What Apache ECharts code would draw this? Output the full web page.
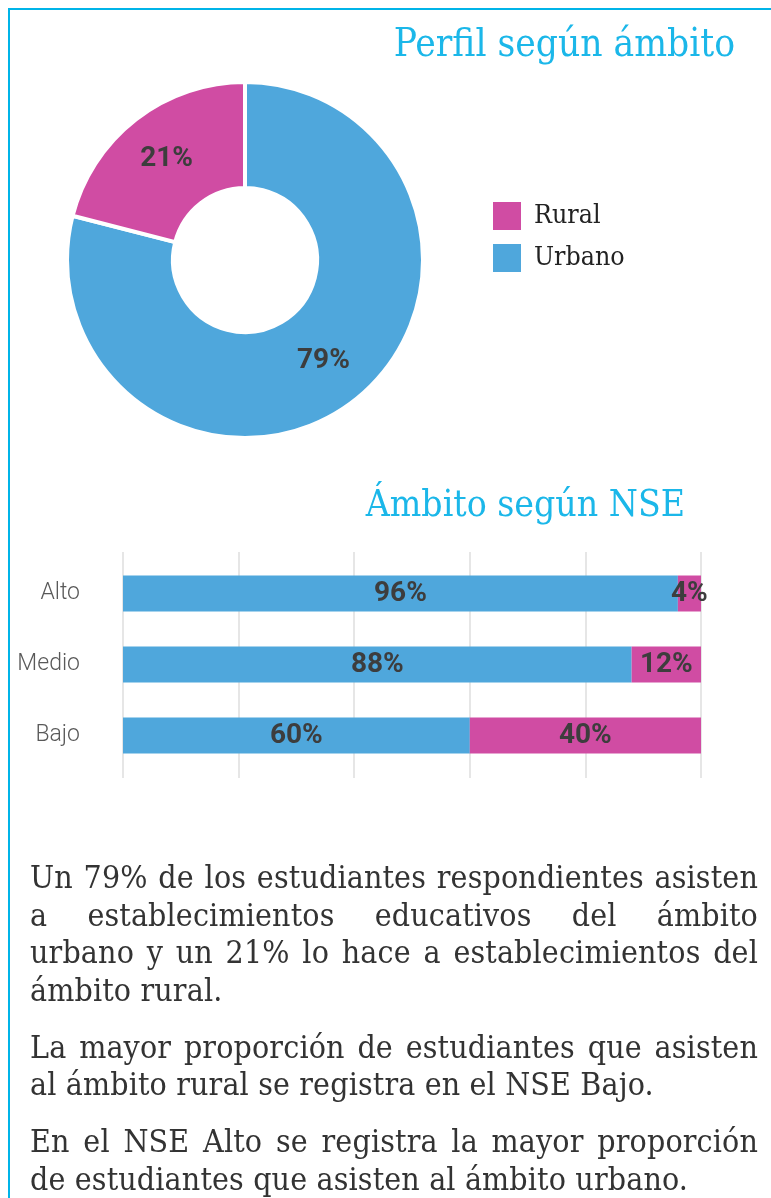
<!DOCTYPE html>
<html>
<head>
<meta charset="utf-8">
<script src="https://cdn.jsdelivr.net/npm/echarts@6/dist/echarts.min.js"></script>
<style>
  html, body { margin: 0; padding: 0; background: #fff; }
  #wrap { position: relative; width: 771px; height: 1198px; overflow: hidden; }
  #frame { position: absolute; left: 8px; top: 8px; width: 800px; height: 1300px;
           border-top: 2px solid #00B4E8; border-left: 2px solid #00B4E8; }
  #chart { position: absolute; left: 0; top: 0; width: 771px; height: 1198px; }
  #notes { position: absolute; left: 30px; top: 858px; width: 728px;
           font-family: "DejaVu Serif Condensed", "DejaVu Serif", serif; font-size: 31.8px;
           letter-spacing: 0.15px; line-height: 37.5px; color: #333; }
  #notes p { margin: 0 0 19.5px 0; }
  #notes span { display: block; white-space: nowrap; }
  #notes span.j { text-align: justify; text-align-last: justify; }
</style>
</head>
<body>
<div id="wrap">
  <div id="frame"></div>
  <div id="chart"></div>
  <div id="notes"></div>
</div>
<script>
// Share of students by setting (donut)
const settingNames = ['Urbano', 'Rural'];
const settingShares = [79, 21];

// Setting by socioeconomic level (stacked bars), bottom to top
const levels = ['Bajo', 'Medio', 'Alto'];
const urbanByLevel = [60, 88, 96];
const ruralByLevel = [40, 12, 4];

// Summary paragraphs, one array per paragraph, one string per line
const notes = [
  ['Un 79% de los estudiantes respondientes asisten',
   'a establecimientos educativos del ámbito',
   'urbano y un 21% lo hace a establecimientos del',
   'ámbito rural.'],
  ['La mayor proporción de estudiantes que asisten',
   'al ámbito rural se registra en el NSE Bajo.'],
  ['En el NSE Alto se registra la mayor proporción',
   'de estudiantes que asisten al ámbito urbano.']
];

const BLUE = '#4FA7DC';
const PINK = '#D04CA3';
const CYAN = '#1BB7E9';
const titleFont = '"DejaVu Serif Condensed", "DejaVu Serif", serif';
const labelFont = 'Roboto, "DejaVu Sans Condensed", sans-serif';

const notesEl = document.getElementById('notes');
notes.forEach(lines => {
  const p = document.createElement('p');
  lines.forEach((line, i) => {
    const s = document.createElement('span');
    s.textContent = line;
    if (i < lines.length - 1) s.className = 'j';
    p.appendChild(s);
  });
  notesEl.appendChild(p);
});

const chart = echarts.init(document.getElementById('chart'), null, { renderer: 'canvas' });
const colorOf = { Urbano: BLUE, Rural: PINK };
const valueLabel = {
  show: true, position: 'inside', formatter: '{c}%',
  fontFamily: labelFont, fontWeight: 'bold', fontSize: 28, color: '#3D3D3D'
};

chart.setOption({
  animation: false,
  title: [
    { text: 'Perfil según ámbito', right: 36, top: 26, padding: 0,
      textStyle: { color: CYAN, fontFamily: titleFont, fontWeight: 'normal', fontSize: 38.5 } },
    { text: 'Ámbito según NSE', right: 86, top: 488, padding: 0,
      textStyle: { color: CYAN, fontFamily: titleFont, fontWeight: 'normal', fontSize: 37 } }
  ],
  legend: {
    data: ['Rural', 'Urbano'],
    orient: 'vertical', left: 493, top: 202, padding: 0,
    icon: 'rect', itemWidth: 28, itemHeight: 28, itemGap: 14,
    textStyle: { fontFamily: titleFont, fontSize: 26.5, color: '#222', padding: [0, 0, 0, 8] },
    selectedMode: false
  },
  grid: [
    { left: 123, width: 578, top: 552, height: 226 },
    { left: 123, width: 578, top: 558, height: 213 }
  ],
  xAxis: [
    { gridIndex: 0, type: 'value', min: 0, max: 100, interval: 20,
      axisLabel: { show: false }, axisLine: { show: false }, axisTick: { show: false },
      splitLine: { show: true, lineStyle: { color: '#E6E6E6', width: 2 } } },
    { gridIndex: 1, type: 'value', min: 0, max: 100, interval: 20,
      axisLabel: { show: false }, axisLine: { show: false }, axisTick: { show: false },
      splitLine: { show: false } }
  ],
  yAxis: [
    { gridIndex: 0, type: 'value', show: false },
    { gridIndex: 1, type: 'category', data: levels,
      axisLine: { show: false }, axisTick: { show: false },
      axisLabel: { margin: 43, fontSize: 23, color: '#595959', fontFamily: 'Roboto, sans-serif', fontWeight: 300 } }
  ],
  series: [
    {
      type: 'pie', name: 'Ámbito',
      center: [245, 260], radius: [72, 178],
      startAngle: 90, clockwise: true,
      itemStyle: { borderColor: '#fff', borderWidth: 4 },
      label: valueLabel,
      labelLine: { show: false },
      emphasis: { disabled: true },
      data: settingNames.map((n, i) => ({ name: n, value: settingShares[i], itemStyle: { color: colorOf[n] } }))
    },
    {
      type: 'bar', name: 'Urbano', xAxisIndex: 1, yAxisIndex: 1, stack: 'nse',
      barWidth: 36, itemStyle: { color: BLUE },
      label: valueLabel,
      data: urbanByLevel
    },
    {
      type: 'bar', name: 'Rural', xAxisIndex: 1, yAxisIndex: 1, stack: 'nse',
      barWidth: 36, itemStyle: { color: PINK },
      label: Object.assign({}, valueLabel, { overflow: 'none' }),
      data: ruralByLevel
    }
  ]
});
</script>
</body>
</html>
